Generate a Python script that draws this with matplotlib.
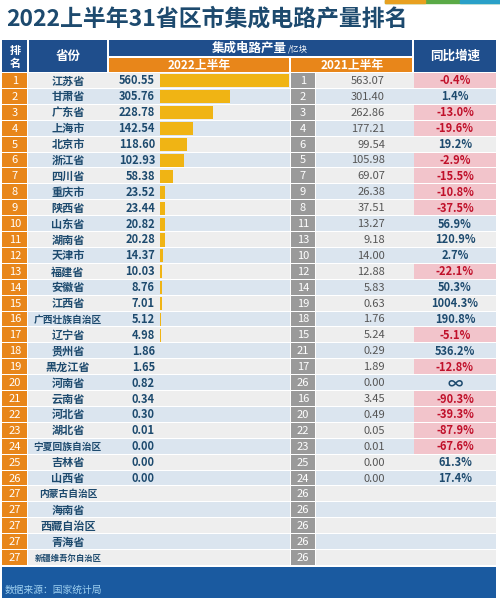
import matplotlib
matplotlib.use("Agg")
import matplotlib.pyplot as plt
from matplotlib.patches import Rectangle

plt.rcParams['font.family'] = ['Noto Sans CJK SC', 'DejaVu Sans']

rank22 = [1,2,3,4,5,6,7,8,9,10,11,12,13,14,15,16,17,18,19,20,21,22,23,24,25,26,27,27,27,27,27]
provinces = ["江苏省","甘肃省","广东省","上海市","北京市","浙江省","四川省","重庆市","陕西省","山东省",
             "湖南省","天津市","福建省","安徽省","江西省","广西壮族自治区","辽宁省","贵州省","黑龙江省","河南省",
             "云南省","河北省","湖北省","宁夏回族自治区","吉林省","山西省","内蒙古自治区","海南省","西藏自治区","青海省","新疆维吾尔自治区"]
v2022 = [560.55,305.76,228.78,142.54,118.60,102.93,58.38,23.52,23.44,20.82,20.28,14.37,10.03,8.76,7.01,5.12,4.98,1.86,1.65,0.82,0.34,0.30,0.01,0.00,0.00,0.00,None,None,None,None,None]
rank21 = [1,2,3,4,6,5,7,9,8,11,13,10,12,14,19,18,15,21,17,26,16,20,22,23,25,24,26,26,26,26,26]
v2021 = [563.07,301.40,262.86,177.21,99.54,105.98,69.07,26.38,37.51,13.27,9.18,14.00,12.88,5.83,0.63,1.76,5.24,0.29,1.89,0.00,3.45,0.49,0.05,0.01,0.00,0.00,None,None,None,None,None]
growth = ["-0.4%","1.4%","-13.0%","-19.6%","19.2%","-2.9%","-15.5%","-10.8%","-37.5%","56.9%",
          "120.9%","2.7%","-22.1%","50.3%","1004.3%","190.8%","-5.1%","536.2%","-12.8%","∞",
          "-90.3%","-39.3%","-87.9%","-67.6%","61.3%","17.4%","","","","",""]

W, H = 500, 598
fig = plt.figure(figsize=(W/100, H/100), dpi=100)
ax = fig.add_axes([0, 0, 1, 1])
ax.set_xlim(0, W); ax.set_ylim(H, 0); ax.axis('off')

navy = '#1f4e8c'; orange = '#e8861a'; gray = '#9a9a9a'; title_c = '#1d4a6e'
ax.text(6, 19, "2022上半年31省区市集成电路产量排名", fontsize=16.5, fontweight='bold', color=title_c, va='center')
ax.add_patch(Rectangle((385, 0), 115, 3, color='#5aaa46'))
ax.add_patch(Rectangle((385, 0), 40, 3, color='#e8a020'))
ax.add_patch(Rectangle((460, 0), 40, 3, color='#2aa0c8'))

hy0, hy2 = 40, 72
def cell(x0, x1, y0, y1, c):
    ax.add_patch(Rectangle((x0, y0), x1 - x0, y1 - y0, color=c, lw=0))
ax.add_patch(Rectangle((2, hy0), 494, hy2 - hy0, color='white', lw=0))
cell(2, 27, hy0, hy2, navy); cell(29, 107, hy0, hy2, navy)
cell(109, 412, hy0, 56, navy); cell(414, 496, hy0, hy2, navy)
cell(109, 289, 58, hy2, orange); cell(291, 412, 58, hy2, orange)
ax.text(15, 50, "排", color='white', fontsize=8, fontweight='bold', ha='center', va='center')
ax.text(15, 63, "名", color='white', fontsize=8, fontweight='bold', ha='center', va='center')
ax.text(68, 56, "省份", color='white', fontsize=9, fontweight='bold', ha='center', va='center')
ax.text(287, 48, "集成电路产量", color='white', fontsize=9, fontweight='bold', ha='right', va='center')
ax.text(288, 49, "/亿块", color='white', fontsize=6, ha='left', va='center')
ax.text(199, 65, "2022上半年", color='white', fontsize=8.5, fontweight='bold', ha='center', va='center')
ax.text(352, 65, "2021上半年", color='white', fontsize=8.5, fontweight='bold', ha='center', va='center')
ax.text(455, 56, "同比增速", color='white', fontsize=9, fontweight='bold', ha='center', va='center')

y0 = 73; rh = (566 - 73) / 31
n = len(provinces)
for i in range(n):
    top = y0 + i * rh; mid = top + rh / 2
    bg = '#eeeeee' if i % 2 == 0 else '#dbe5ef'
    cell(28, 290, top, top + rh - 1, bg)
    cell(316, 496, top, top + rh - 1, bg)
    cell(2, 27, top, top + rh - 1, orange)
    cell(291, 315, top, top + rh - 1, gray)
    ax.text(15, mid, str(rank22[i]), color='white', fontsize=8, ha='center', va='center')
    ax.text(303, mid, str(rank21[i]), color='white', fontsize=8, ha='center', va='center')
    fs = 8 if len(provinces[i]) <= 5 else (7 if len(provinces[i]) <= 7 else 6)
    ax.text(68, mid, provinces[i], color=title_c, fontsize=fs, ha='center', va='center', fontweight='bold')
    if v2022[i] is not None:
        ax.text(155, mid, f"{v2022[i]:.2f}", color=title_c, fontsize=8, ha='right', va='center', fontweight='bold')
    if v2021[i] is not None:
        ax.text(385, mid, f"{v2021[i]:.2f}", color='#555555', fontsize=8, ha='right', va='center')
    g = growth[i]
    if g:
        neg = g.startswith('-')
        if neg:
            cell(414, 496, top, top + rh - 1, '#f2c4cb')
        ax.text(455, mid, g, color='#c0102a' if neg else title_c, fontsize=8 if g != "∞" else 11,
                ha='center', va='center', fontweight='bold')

bax = fig.add_axes([160 / W, 1 - (y0 + n * rh) / H, 130 / W, n * rh / H])
bax.set_xlim(0, 565); bax.set_ylim(n - 0.5, -0.5); bax.axis('off')
vals = [v if v is not None else 0 for v in v2022]
bax.barh(range(n), vals, height=0.82, color='#f0b414')

cell(2, 496, 567, 598, '#1a5aa0')
ax.text(5, 590, "数据来源：国家统计局", color='#9fd0f0', fontsize=7, va='center')

fig.savefig("out.png", dpi=100)
